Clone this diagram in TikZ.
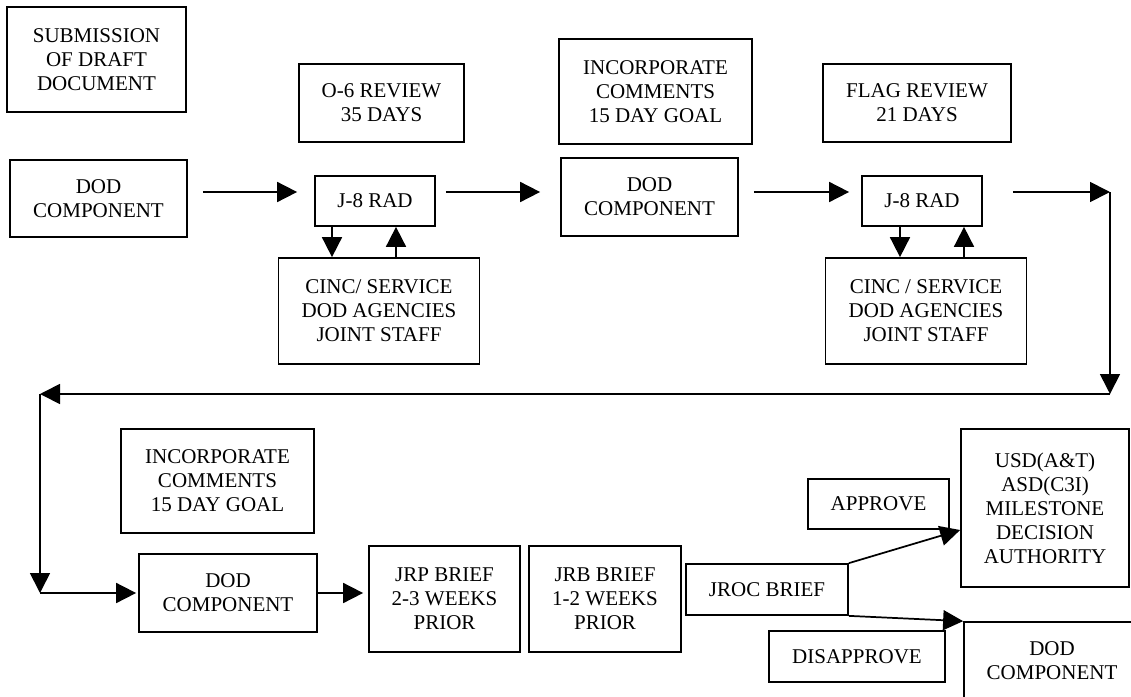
\documentclass[tikz,border=0pt]{standalone}
\usepackage{fontspec}
\setmainfont{Liberation Serif}
\usetikzlibrary{arrows.meta,positioning,calc}

\begin{document}
\begin{tikzpicture}[
x=0.75pt,y=-0.75pt,
>={Triangle[length=15pt,width=15pt]},
box/.style={
	draw,
	line width=1.3pt,
	align=center,
	inner sep=0pt,
	font=\fontsize{15.75}{18}\selectfont
},
flow/.style={
	->,
	line width=1.3pt
}
]
\useasboundingbox (0,0) rectangle (1131,696);

% first row
\node[box,minimum width=134.25pt,minimum height=78.75pt] (submit) at (96.5,59.5) {SUBMISSION\\OF DRAFT\\DOCUMENT};
\node[box,minimum width=123.75pt,minimum height=58.5pt] (o6) at (381.5,103) {O-6 REVIEW\\35 DAYS};
\node[box,minimum width=144.75pt,minimum height=78.75pt] (inc1) at (655.5,91.5) {INCORPORATE\\COMMENTS\\15 DAY GOAL};
\node[box,minimum width=141pt,minimum height=58.5pt] (flag) at (917,103) {FLAG REVIEW\\21 DAYS};

\node[box,minimum width=132.75pt,minimum height=57.75pt] (dod1) at (98.5,198.5) {DOD\\COMPONENT};
\node[box,minimum width=132.75pt,minimum height=58.5pt] (dod2) at (649.5,197) {DOD\\COMPONENT};

\foreach \n/\x/\s in {1/375/{CINC/ SERVICE},2/922/{CINC / SERVICE}}{
\node[box,minimum width=90pt,minimum height=37.5pt] (rad\n) at (\x,201) {J-8 RAD};
\node[box,minimum width=150.75pt,minimum height=79.5pt] (cinc\n) at (\x+4,311) {\s\\DOD AGENCIES\\JOINT STAFF};
}

% second row
\node[box,minimum width=144.75pt,minimum height=78pt] (inc2) at (217.5,481) {INCORPORATE\\COMMENTS\\15 DAY GOAL};
\node[box,minimum width=133.5pt,minimum height=58.5pt] (dod3) at (228,593) {DOD\\COMPONENT};
\node[box,minimum width=113.25pt,minimum height=79.5pt] (jrp) at (444.5,599) {JRP BRIEF\\2-3 WEEKS\\PRIOR};
\node[box,minimum width=114pt,minimum height=79.5pt] (jrb) at (605,599) {JRB BRIEF\\1-2 WEEKS\\PRIOR};
\node[box,minimum width=121.5pt,minimum height=38.25pt] (jroc) at (767,589.5) {JROC BRIEF};
\node[box,minimum width=105.75pt,minimum height=37.5pt] (approve) at (878.5,504) {APPROVE};
\node[box,minimum width=132pt,minimum height=38.25pt] (disapprove) at (857,656.5) {DISAPPROVE};
\node[box,minimum width=126pt,minimum height=118.5pt] (usd) at (1045,508) {USD(A\&T)\\ASD(C3I)\\MILESTONE\\DECISION\\AUTHORITY};
\node[box,minimum width=132pt,minimum height=58.5pt] (dod4) at (1052,661) {DOD\\COMPONENT};

% connectors
\coordinate (row1) at (0,192);
\coordinate (c1) at (1110,192);
\coordinate (c2) at (1110,394);
\coordinate (c3) at (40,394);
\coordinate (c4) at (40,593);

\draw[flow,shorten <=11.25pt,shorten >=12.75pt] (dod1.east |- row1) -- (rad1.west |- row1);
\draw[flow,shorten <=7.5pt,shorten >=15pt] (rad1.east |- row1) -- (dod2.west |- row1);
\draw[flow,shorten <=11.25pt,shorten >=9pt] (dod2.east |- row1) -- (rad2.west |- row1);
\draw[flow,shorten <=22.5pt] (rad2.east |- row1) -- (c1);
\draw[flow] (c1) -- (c2);
\draw[flow] (c2) -- (c3);
\draw[flow] (c3) -- (c4);
\draw[flow,shorten >=1.5pt] (c4) -- (dod3.west);
\draw[flow,shorten >=3.75pt] (dod3.east) -- (dod3.east -| jrp.west);

\foreach \n/\dn/\up in {1/-43/21,2/-22/42}{
\path ($(rad\n.south)+(\dn,0)$) coordinate (dn\n) ($(rad\n.south)+(\up,0)$) coordinate (up\n);
\draw[flow] (dn\n) -- (dn\n |- cinc\n.north);
\draw[flow] (up\n |- cinc\n.north) -- (up\n);
}

\draw[flow] (jroc.north east) -- ($(usd.west)+(0,22)$);
\draw[flow] (jroc.south east) -- (dod4.north west);
\end{tikzpicture}
\end{document}
